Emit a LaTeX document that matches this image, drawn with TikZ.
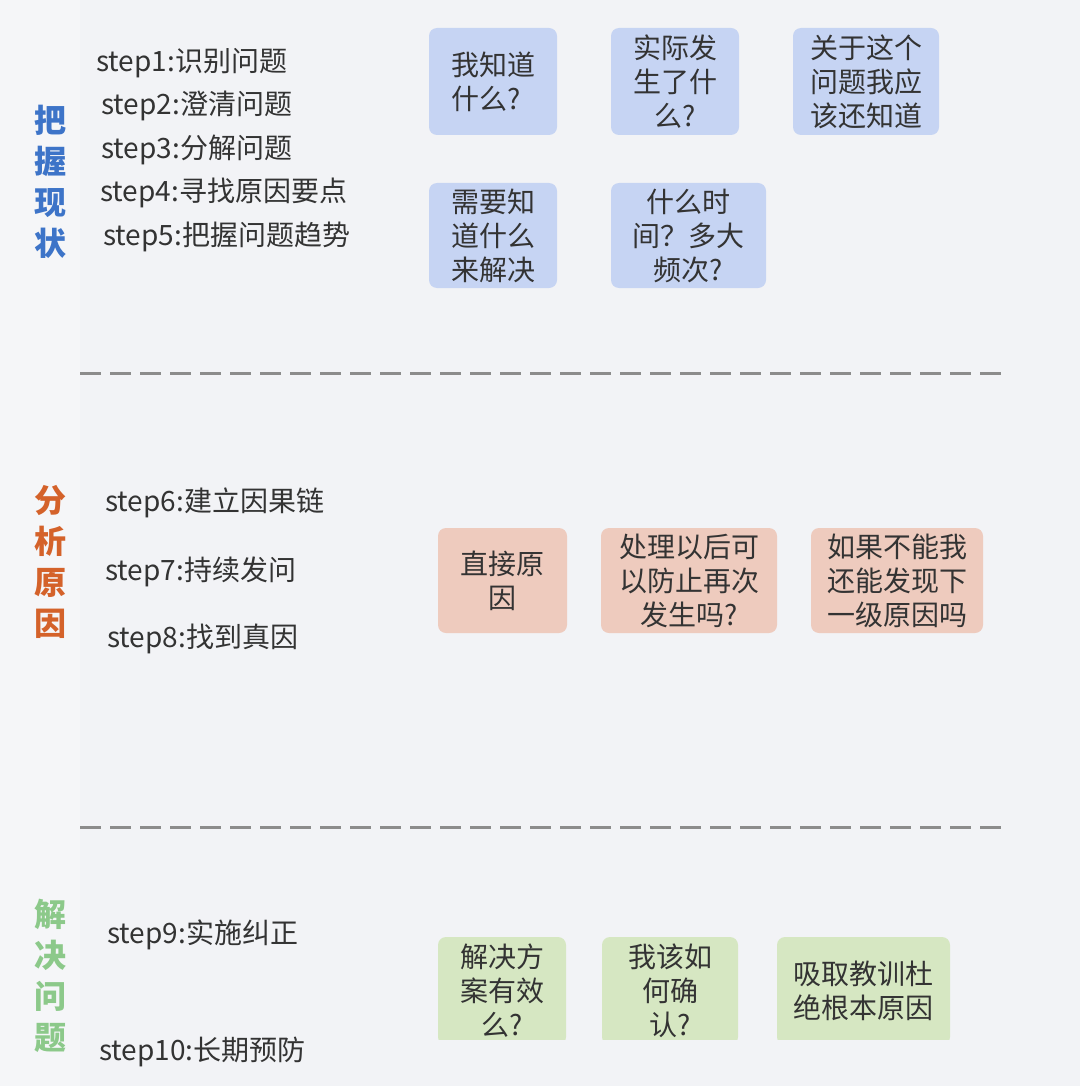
\documentclass[tikz,border=0pt]{standalone}
\usepackage{fontspec}
\setmainfont{Noto Sans CJK SC}
\usepackage{xcolor}
\usepackage{tikz}
\usetikzlibrary{positioning}
\definecolor{pagebg}{HTML}{F2F3F6}
\definecolor{stripbg}{HTML}{F5F6F8}
\definecolor{txtgray}{HTML}{333333}
\definecolor{dashgray}{HTML}{8C8C8C}
\definecolor{seeblue}{HTML}{3D74C8}
\definecolor{whyorange}{HTML}{D4622A}
\definecolor{fixgreen}{HTML}{8CC98A}
\definecolor{boxblue}{HTML}{C6D4F3}
\definecolor{boxorange}{HTML}{EECBBE}
\definecolor{boxgreen}{HTML}{D6E7C2}
\tikzset{
  phase/.style={
    font=\fontsize{32}{41}\selectfont\bfseries,
    align=center,
    inner sep=0pt
  },
  steptext/.style={
    font=\fontsize{28}{34}\selectfont,
    text=txtgray,
    anchor=west,
    inner sep=0pt
  },
  qbox/.style={
    fill=boxblue,
    rounded corners=8pt,
    align=center,
    text=txtgray,
    font=\fontsize{28}{34}\selectfont,
    minimum height=107pt,
    inner sep=0pt
  },
  qbox2/.style={
    qbox,
    fill=boxorange,
    minimum height=105pt
  },
  qbox3/.style={
    qbox,
    fill=boxgreen,
    minimum height=108pt
  },
  sepline/.style={
    draw=dashgray,
    line width=3pt,
    dash pattern=on 21pt off 9pt
  }
}

\begin{document}
\begin{tikzpicture}[x=1pt,y=-1pt]
    % page
    \fill[pagebg] (0,0) rectangle (1080,1086);
    \fill[stripbg] (0,0) rectangle (80,1086);
    \useasboundingbox (0,0) rectangle (1080,1086);

    % --- 把握现状 ---
    \node[phase, text=seeblue] (see) at (50,182) {把\\握\\现\\状};
    \node[steptext] (s1) at (96,63) {step1:识别问题};
    \node[steptext] (s2) at (101,106) {step2:澄清问题};
    \node[steptext] (s3) at (101,150) {step3:分解问题};
    \node[steptext] (s4) at (100,193) {step4:寻找原因要点};
    \node[steptext] (s5) at (103,237) {step5:把握问题趋势};

    \node[qbox, minimum width=128pt, align=left] (know) at (493,81.5) {我知道\\什么?};
    \node[qbox, minimum width=128pt] (happen) at (675,81.5) {实际发\\生了什\\么?};
    \node[qbox, minimum width=146pt] (more) at (866,81.5) {关于这个\\问题我应\\该还知道};
    \node[qbox, minimum width=128pt, minimum height=105pt] (need) at (493,235.5) {需要知\\道什么\\来解决};
    \node[qbox, minimum width=155pt, minimum height=105pt] (when) at (688.5,235.5) {什么时\\间？多大\\频次?};

    \coordinate (sepA-l) at (80,373);
    \coordinate (sepA-r) at (1006,373);
    \draw[sepline] (sepA-l) -- (sepA-r);

    % --- 分析原因 ---
    \node[phase, text=whyorange] (why) at (50,562) {分\\析\\原\\因};
    \node[steptext] (s6) at (105,503) {step6:建立因果链};
    \node[steptext] (s7) at (105,572) {step7:持续发问};
    \node[steptext] (s8) at (107,639) {step8:找到真因};

    \node[qbox2, minimum width=129pt] (direct) at (502.5,580.5) {直接原\\因};
    \node[qbox2, minimum width=176pt] (prevent) at (689,580.5) {处理以后可\\以防止再次\\发生吗?};
    \node[qbox2, minimum width=172pt] (deeper) at (897,580.5) {如果不能我\\还能发现下\\一级原因吗};

    \coordinate (sepB-l) at (80,827);
    \coordinate (sepB-r) at (1006,827);
    \draw[sepline] (sepB-l) -- (sepB-r);

    % --- 解决问题 ---
    \node[phase, text=fixgreen] (fix) at (50,976) {解\\决\\问\\题};
    \node[steptext] (s9) at (107,935) {step9:实施纠正};
    \node[steptext] (s10) at (99,1052) {step10:长期预防};

    \begin{scope}
        \clip (0,0) rectangle (1080,1039);
        \node[qbox3, minimum width=128pt] (works) at (502,991) {解决方\\案有效\\么?};
        \node[qbox3, minimum width=136pt] (confirm) at (670,991) {我该如\\何确\\认?};
        \node[qbox3, minimum width=173pt] (lesson) at (863.5,991) {吸取教训杜\\绝根本原因};
    \end{scope}
\end{tikzpicture}
\end{document}
